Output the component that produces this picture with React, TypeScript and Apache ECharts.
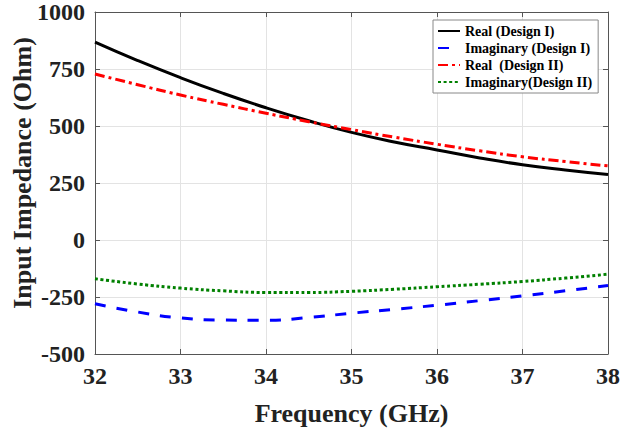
import React, { useEffect, useRef } from "react";
import * as echarts from "echarts";

const freq = [32, 32.5, 33, 33.5, 34, 34.5, 35, 35.5, 36, 36.5, 37, 37.5, 38];
const realD1 = [868, 787, 712, 643, 580, 523, 472, 430, 395, 360, 330, 307, 287];
const imagD1 = [-280, -316, -342, -351, -352, -340, -321, -304, -286, -266, -245, -223, -200];
const realD2 = [728, 681, 636, 595, 556, 519, 484, 451, 420, 391, 365, 344, 325];
const imagD2 = [-170, -193, -211, -223, -230, -230, -225, -216, -205, -194, -182, -167, -150];
const seriesNames = ["Real (Design I)", "Imaginary (Design I)", "Real  (Design II)", "Imaginary(Design II)"];

const FONT = "'Liberation Serif', 'Times New Roman', serif";

export default function App() {
  const ref = useRef<HTMLDivElement>(null);
  useEffect(() => {
    if (!ref.current) return;
    const chart = echarts.init(ref.current, undefined, { renderer: "svg" });
    const pts = (vals: number[]) => freq.map((f, i) => [f, vals[i]]);
    const axisLineColor = "#555";
    const gridColor = "#e3e3e3";
    chart.setOption({
      animation: false,
      backgroundColor: "#fff",
      grid: { left: 95, right: 14, top: 12, bottom: 74, containLabel: false, outerBoundsMode: "none" },
      legend: {
        orient: "vertical",
        left: 433,
        top: 20,
        itemWidth: 22,
        itemHeight: 10,
        itemGap: 3,
        padding: [4, 6, 4, 4],
        backgroundColor: "#fff",
        borderColor: "#888",
        borderWidth: 1,
        itemStyle: { opacity: 0 },
        textStyle: { fontFamily: FONT, fontWeight: "bold", fontSize: 14, color: "#000" },
        data: seriesNames,
      },
      xAxis: [
        {
          type: "value",
          min: 32,
          max: 38,
          interval: 1,
          name: "Frequency (GHz)",
          nameLocation: "middle",
          nameGap: 46,
          nameMoveOverlap: false,
          nameTextStyle: { fontFamily: FONT, fontWeight: "bold", fontSize: 26, color: "#222" },
          axisLine: { show: true, onZero: false, lineStyle: { color: axisLineColor, width: 1 } },
          axisTick: { show: true, inside: true, length: 5, lineStyle: { color: axisLineColor } },
          axisLabel: { fontFamily: FONT, fontWeight: "bold", fontSize: 24, color: "#222", margin: 10 },
          splitLine: { show: true, lineStyle: { color: gridColor, width: 1 } },
        },
        {
          type: "value",
          position: "top",
          min: 32,
          max: 38,
          interval: 1,
          axisLine: { show: true, onZero: false, lineStyle: { color: axisLineColor, width: 1 } },
          axisTick: { show: true, inside: true, length: 5, lineStyle: { color: axisLineColor } },
          axisLabel: { show: false },
          splitLine: { show: false },
        },
      ],
      yAxis: [
        {
          type: "value",
          min: -500,
          max: 1000,
          interval: 250,
          name: "Input Impedance (Ohm)",
          nameLocation: "middle",
          nameGap: 60,
          nameMoveOverlap: false,
          nameTextStyle: {
            fontFamily: FONT,
            fontWeight: "bold",
            fontSize: 26,
            color: "#222",
            padding: [0, 0, 0, 20],
          },
          axisLine: { show: true, onZero: false, lineStyle: { color: axisLineColor, width: 1 } },
          axisTick: { show: true, inside: true, length: 5, lineStyle: { color: axisLineColor } },
          axisLabel: {
            fontFamily: FONT,
            fontWeight: "bold",
            fontSize: 24,
            color: "#222",
            margin: 10,
            formatter: (v: number) => String(v),
          },
          splitLine: { show: true, lineStyle: { color: gridColor, width: 1 } },
        },
        {
          type: "value",
          position: "right",
          min: -500,
          max: 1000,
          interval: 250,
          axisLine: { show: true, onZero: false, lineStyle: { color: axisLineColor, width: 1 } },
          axisTick: { show: true, inside: true, length: 5, lineStyle: { color: axisLineColor } },
          axisLabel: { show: false },
          splitLine: { show: false },
        },
      ],
      series: [
        {
          name: seriesNames[0],
          type: "line",
          data: pts(realD1),
          smooth: true,
          showSymbol: false,
          symbol: "none",
          lineStyle: { color: "#000", width: 3, type: "solid" },
          itemStyle: { color: "#000" },
        },
        {
          name: seriesNames[1],
          type: "line",
          data: pts(imagD1),
          smooth: true,
          showSymbol: false,
          symbol: "none",
          lineStyle: { color: "#0000ff", width: 3, type: [11, 11] },
          itemStyle: { color: "#0000ff" },
        },
        {
          name: seriesNames[2],
          type: "line",
          data: pts(realD2),
          smooth: true,
          showSymbol: false,
          symbol: "none",
          lineStyle: { color: "#ff0000", width: 3, type: [10, 4, 3, 4] },
          itemStyle: { color: "#ff0000" },
        },
        {
          name: seriesNames[3],
          type: "line",
          data: pts(imagD2),
          smooth: true,
          showSymbol: false,
          symbol: "none",
          lineStyle: { color: "#008000", width: 3, type: [3, 2.6] },
          itemStyle: { color: "#008000" },
        },
      ],
    });
    return () => chart.dispose();
  }, []);
  return <div ref={ref} style={{ width: 622, height: 428, position: "absolute", left: 0, top: 0 }} />;
}
